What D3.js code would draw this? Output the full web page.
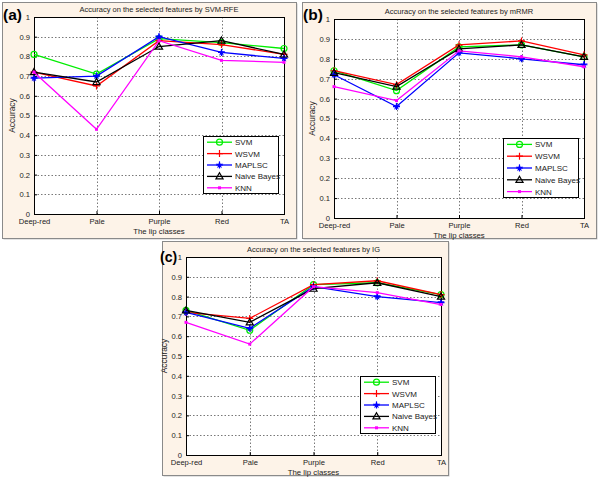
<!DOCTYPE html>
<html><head><meta charset="utf-8">
<script src="https://cdn.jsdelivr.net/npm/d3@7"></script>
<style>body{margin:0;background:#fff}svg{display:block;font-family:"Liberation Sans",Arial,sans-serif}</style>
</head><body>
<svg id="c" width="600" height="478"></svg>
<script>
const categories = ["Deep-red","Pale","Purple","Red","TA"];
const yTicks = [0,0.1,0.2,0.3,0.4,0.5,0.6,0.7,0.8,0.9,1];
const yTickLabels = ["0","0.1","0.2","0.3","0.4","0.5","0.6","0.7","0.8","0.9","1"];
const seriesNames = ["SVM","WSVM","MAPLSC","Naive Bayes","KNN"];
const seriesColors = ["#00ee00","#ff0000","#0000ff","#000000","#ff00ff"];
const seriesMarkers = ["circle","plus","star","triangle","square"];

// Panel (a) SVM-RFE
const rfeSVM    = [0.81,0.71,0.89,0.87,0.84];
const rfeWSVM   = [0.72,0.65,0.88,0.86,0.81];
const rfeMAPLSC = [0.69,0.70,0.90,0.82,0.79];
const rfeNB     = [0.72,0.67,0.85,0.88,0.81];
const rfeKNN    = [0.72,0.43,0.88,0.78,0.77];
// Panel (b) mRMR
const mrmrSVM    = [0.74,0.64,0.86,0.87,0.81];
const mrmrWSVM   = [0.74,0.67,0.87,0.89,0.82];
const mrmrMAPLSC = [0.72,0.56,0.83,0.80,0.77];
const mrmrNB     = [0.73,0.66,0.85,0.87,0.81];
const mrmrKNN    = [0.66,0.59,0.84,0.81,0.76];
// Panel (c) IG
const igSVM    = [0.73,0.63,0.86,0.87,0.81];
const igWSVM   = [0.72,0.69,0.86,0.88,0.81];
const igMAPLSC = [0.72,0.64,0.85,0.80,0.77];
const igNB     = [0.73,0.67,0.84,0.87,0.80];
const igKNN    = [0.67,0.56,0.85,0.82,0.76];

const titles = ["Accuracy on the selected features by SVM-RFE","Accuracy on the selected features by mRMR","Accuracy on the selected features by IG"];
const panelLabels = ["(a)","(b)","(c)"];
const xLabel = "The lip classes";
const yLabel = "Accuracy";

const panels = [
  {frame:[2,2,294,236], plot:[34,17,284,214], legend:[203,136,75,57], label:[3,20,15.5], series:[rfeSVM,rfeWSVM,rfeMAPLSC,rfeNB,rfeKNN]},
  {frame:[302,2,294,236], plot:[334,19,584,218], legend:[503,138,75,59], label:[303,20,15.5], series:[mrmrSVM,mrmrWSVM,mrmrMAPLSC,mrmrNB,mrmrKNN]},
  {frame:[162,241,286,234], plot:[186,257,441,455], legend:[360,376,75,57], label:[160,262,14], series:[igSVM,igWSVM,igMAPLSC,igNB,igKNN]}
];

const svg = d3.select("#c");

function marker(g, type, x, y, color){
  if(type==="circle"){
    g.append("circle").attr("cx",x).attr("cy",y).attr("r",3).attr("fill","none").attr("stroke",color).attr("stroke-width",1.2);
  } else if(type==="plus"){
    g.append("path").attr("d",`M${x-3.5},${y}H${x+3.5}M${x},${y-3.5}V${y+3.5}`).attr("stroke",color).attr("stroke-width",1.2);
  } else if(type==="star"){
    g.append("path").attr("d",d3.symbol(d3.symbolStar,18)()).attr("transform",`translate(${x},${y})`).attr("fill",color);
    g.append("path").attr("d",`M${x-3.5},${y}H${x+3.5}M${x},${y-3.5}V${y+3.5}`).attr("stroke",color).attr("stroke-width",1.2);
  } else if(type==="triangle"){
    g.append("path").attr("d",d3.symbol(d3.symbolTriangle,22)()).attr("transform",`translate(${x},${y+0.5})`).attr("fill","none").attr("stroke",color).attr("stroke-width",1.2);
  } else if(type==="square"){
    g.append("rect").attr("x",x-1.5).attr("y",y-1.5).attr("width",3).attr("height",3).attr("fill",color);
  }
}

panels.forEach((p,pi)=>{
  const g = svg.append("g");
  const [fx,fy,fw,fh] = p.frame;
  g.append("rect").attr("x",fx+1.5).attr("y",fy+1.5).attr("width",fw).attr("height",fh).attr("fill","#c8c8c8");
  g.append("rect").attr("x",fx+0.5).attr("y",fy+0.5).attr("width",fw).attr("height",fh).attr("fill","#fdf3e8").attr("stroke","#8a8a8a").attr("stroke-width",1);

  const [l,t,r,b] = p.plot;
  const x = d3.scalePoint().domain(categories).range([l,r]).padding(0);
  const y = d3.scaleLinear().domain([0,1]).range([b,t]);

  g.append("rect").attr("x",l).attr("y",t).attr("width",r-l).attr("height",b-t).attr("fill","#fff");

  // grid
  const grid = g.append("g").attr("stroke","#555").attr("stroke-width",0.8).attr("stroke-dasharray","1.5,2");
  yTicks.slice(1,-1).forEach(v=>{
    grid.append("line").attr("x1",l).attr("x2",r).attr("y1",Math.round(y(v))+0.5).attr("y2",Math.round(y(v))+0.5);
  });
  categories.slice(1,-1).forEach(c=>{
    grid.append("line").attr("y1",t).attr("y2",b).attr("x1",Math.round(x(c))+0.5).attr("x2",Math.round(x(c))+0.5);
  });

  // axes
  const yAxis = d3.axisLeft(y).tickValues(yTicks).tickFormat((d,i)=>yTickLabels[i]).tickSizeInner(-3).tickSizeOuter(0).tickPadding(4);
  const ya = g.append("g").attr("transform",`translate(${l},0)`).call(yAxis);
  const xAxis = d3.axisBottom(x).tickSizeInner(-3).tickSizeOuter(0).tickPadding(5);
  const xa = g.append("g").attr("transform",`translate(0,${b})`).call(xAxis);
  [ya,xa].forEach(a=>{
    a.selectAll("path.domain").remove();
    a.selectAll("text").attr("font-size",7.6).attr("fill","#222").attr("font-family","'Liberation Sans',Arial,sans-serif");
    a.selectAll("line").attr("stroke","#000");
  });
  g.append("rect").attr("x",l+0.5).attr("y",t+0.5).attr("width",r-l).attr("height",b-t).attr("fill","none").attr("stroke","#000").attr("stroke-width",1);

  // lines
  const line = d3.line().x((d,i)=>x(categories[i])).y(d=>y(d));
  p.series.forEach((vals,si)=>{
    g.append("path").datum(vals).attr("d",line).attr("fill","none").attr("stroke",seriesColors[si]).attr("stroke-width",1.3);
    vals.forEach((v,i)=>marker(g,seriesMarkers[si],x(categories[i]),y(v),seriesColors[si]));
  });

  // titles
  g.append("text").attr("x",(l+r)/2).attr("y",t-5).attr("text-anchor","middle").attr("font-size",7.5).attr("fill","#222").text(titles[pi]);
  g.append("text").attr("x",(l+r)/2).attr("y",b+19.5).attr("text-anchor","middle").attr("font-size",7.8).attr("fill","#222").text(xLabel);
  g.append("text").attr("transform",`translate(${l-19},${(t+b)/2}) rotate(-90)`).attr("text-anchor","middle").attr("font-size",8.4).attr("fill","#222").text(yLabel);
  g.append("text").attr("x",p.label[0]).attr("y",p.label[1]).attr("font-size",p.label[2]).attr("font-weight","bold").attr("fill","#000").text(panelLabels[pi]);

  // legend
  const [lx,ly,lw,lh] = p.legend;
  g.append("rect").attr("x",lx+0.5).attr("y",ly+0.5).attr("width",lw).attr("height",lh).attr("fill","#fff").attr("stroke","#000").attr("stroke-width",1);
  const rowH = lh/5;
  seriesNames.forEach((n,si)=>{
    const cy = ly + rowH*(si+0.5) + 0.5;
    g.append("line").attr("x1",lx+4).attr("x2",lx+29).attr("y1",cy).attr("y2",cy).attr("stroke",seriesColors[si]).attr("stroke-width",1.3);
    marker(g,seriesMarkers[si],lx+16.5,cy,seriesColors[si]);
    g.append("text").attr("x",lx+32).attr("y",cy+3).attr("font-size",8).attr("fill","#222").text(n);
  });
});
</script>
</body></html>
